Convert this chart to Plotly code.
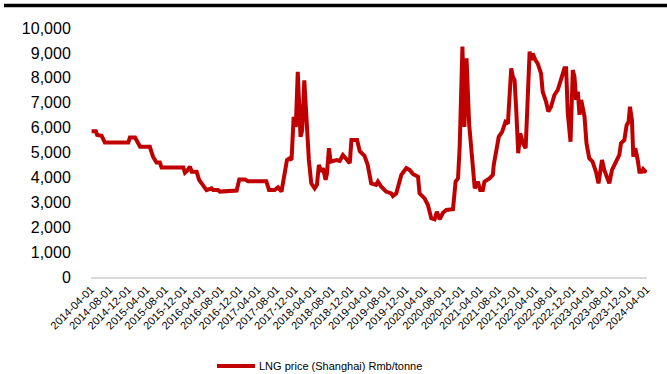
import plotly.graph_objects as go

dates = [
    "2014-04-05", "2014-05-03", "2014-05-12", "2014-06-10", "2014-07-01", "2014-12-02", "2014-12-13",
    "2015-01-16", "2015-02-18", "2015-04-23", "2015-05-14", "2015-06-06", "2015-06-28", "2015-07-09",
    "2015-11-29", "2015-12-10", "2015-12-25", "2016-01-12", "2016-01-23", "2016-02-25", "2016-03-12",
    "2016-04-08", "2016-04-30", "2016-06-02", "2016-06-13", "2016-07-15", "2016-07-26", "2016-11-14",
    "2016-12-01", "2017-01-08", "2017-01-29", "2017-05-28", "2017-06-15", "2017-07-22", "2017-08-13",
    "2017-09-05", "2017-09-26", "2017-10-11", "2017-10-29", "2017-11-10", "2017-11-24", "2017-12-08",
    "2017-12-21", "2017-12-30", "2018-01-08", "2018-01-19", "2018-02-02", "2018-02-17", "2018-03-04",
    "2018-03-20", "2018-04-11", "2018-04-26", "2018-05-09", "2018-05-25", "2018-06-05", "2018-06-22",
    "2018-07-01", "2018-07-14", "2018-07-25", "2018-09-02", "2018-09-23", "2018-10-14", "2018-11-06",
    "2018-11-28", "2018-12-09", "2019-01-15", "2019-02-02", "2019-03-05", "2019-03-26", "2019-04-18",
    "2019-05-20", "2019-06-01", "2019-06-23", "2019-07-25", "2019-08-28", "2019-09-08", "2019-09-30",
    "2019-10-17", "2019-11-02", "2019-12-05", "2019-12-26", "2020-01-17", "2020-02-20", "2020-03-01",
    "2020-04-03", "2020-04-25", "2020-05-17", "2020-06-08", "2020-06-23", "2020-07-11", "2020-08-02",
    "2020-08-24", "2020-10-07", "2020-10-24", "2020-11-09", "2020-11-20", "2020-12-08", "2020-12-21",
    "2021-01-04", "2021-01-21", "2021-02-16", "2021-02-27", "2021-03-19", "2021-04-04", "2021-04-21",
    "2021-05-02", "2021-06-04", "2021-06-26", "2021-07-02", "2021-07-18", "2021-08-04", "2021-08-26",
    "2021-09-17", "2021-10-03", "2021-10-25", "2021-11-05", "2021-11-16", "2021-11-27", "2021-12-10",
    "2021-12-23", "2022-01-10", "2022-01-28", "2022-02-08", "2022-02-23", "2022-03-04", "2022-03-15",
    "2022-04-02", "2022-04-17", "2022-05-09", "2022-05-20", "2022-06-11", "2022-06-26", "2022-07-14",
    "2022-08-05", "2022-08-27", "2022-09-19", "2022-10-10", "2022-10-21", "2022-11-01", "2022-11-19",
    "2022-12-04", "2022-12-15", "2022-12-26", "2023-01-06", "2023-01-17", "2023-01-28", "2023-02-19",
    "2023-03-04", "2023-03-22", "2023-04-13", "2023-05-05", "2023-05-22", "2023-06-14", "2023-06-29",
    "2023-07-14", "2023-08-01", "2023-08-19", "2023-09-14", "2023-10-06", "2023-10-17", "2023-11-08",
    "2023-11-23", "2023-12-06", "2023-12-15", "2023-12-28", "2024-01-06", "2024-01-19", "2024-02-04",
    "2024-02-15", "2024-03-03", "2024-03-11", "2024-04-01",
]

prices = [
    5850, 5850, 5700, 5670, 5400, 5400, 5600,
    5600, 5230, 5230, 4830, 4600, 4600, 4400,
    4400, 4190, 4270, 4430, 4230, 4230, 3900,
    3700, 3490, 3560, 3490, 3490, 3430, 3470,
    3920, 3920, 3850, 3850, 3490, 3490, 3600,
    3430, 4300, 4700, 4770, 4700, 6430, 6030,
    8240, 6300, 5630, 5900, 7900, 6300, 4700,
    3760, 3560, 3700, 4500, 4230, 4370, 3900,
    4150, 5170, 4630, 4700, 4660, 4900, 4700,
    4570, 5500, 5500, 5050, 4870, 4500, 3760,
    3700, 3830, 3630, 3430, 3360, 3250, 3360,
    3830, 4100, 4370, 4300, 4140, 4030, 3360,
    3160, 2890, 2360, 2320, 2620, 2320, 2580,
    2690, 2720, 3830, 3960, 5230, 9250, 6030,
    8780, 6160, 4300, 3560, 3830, 3490, 3490,
    3830, 3960, 4100, 4500, 5170, 5630, 5830,
    6230, 6160, 8380, 8040, 7910, 6710, 4970,
    5770, 5370, 5170, 6570, 9050, 8710, 8980,
    8710, 8580, 8180, 7440, 7040, 6640, 6840,
    7310, 7510, 8040, 8380, 8380, 6570, 5430,
    8310, 8040, 7110, 7440, 6510, 7110, 6440,
    5370, 4770, 4630, 4230, 3760, 4700, 4300,
    4030, 3760, 4300, 4630, 4900, 5370, 5500,
    6100, 6230, 6840, 6300, 4830, 5170, 4700,
    4230, 4230, 4330, 4190,
]

tick_dates = [
    "2014-04-01", "2014-08-01", "2014-12-01", "2015-04-01", "2015-08-01", "2015-12-01",
    "2016-04-01", "2016-08-01", "2016-12-01", "2017-04-01", "2017-08-01", "2017-12-01",
    "2018-04-01", "2018-08-01", "2018-12-01", "2019-04-01", "2019-08-01", "2019-12-01",
    "2020-04-01", "2020-08-01", "2020-12-01", "2021-04-01", "2021-08-01", "2021-12-01",
    "2022-04-01", "2022-08-01", "2022-12-01", "2023-04-01", "2023-08-01", "2023-12-01",
    "2024-04-01",
]
y_ticks = [0, 1000, 2000, 3000, 4000, 5000, 6000, 7000, 8000, 9000, 10000]
y_tick_labels = ["0", "1,000", "2,000", "3,000", "4,000", "5,000", "6,000", "7,000", "8,000", "9,000", "10,000"]
series_name = "LNG price (Shanghai) Rmb/tonne"

RED = "#C00000"
FONT = "Liberation Sans, Arial, sans-serif"

W, H = 667, 374
ML, MR, MT, MB = 91, 20, 28, 97
plot_w = W - ML - MR
plot_h = H - MT - MB

fig = go.Figure()
fig.add_trace(go.Scatter(
    x=dates, y=prices, mode="lines", name=series_name,
    line=dict(color=RED, width=4), showlegend=False,
))

fig.update_layout(
    width=W, height=H,
    margin=dict(l=ML, r=MR, t=MT, b=MB, pad=0),
    paper_bgcolor="white", plot_bgcolor="white",
    font=dict(family=FONT, color="#000000"),
    xaxis=dict(
        type="date",
        range=["2014-04-01", "2024-04-05"],
        tickmode="array",
        tickvals=tick_dates,
        ticktext=tick_dates,
        tickangle=-45,
        tickfont=dict(size=11, family=FONT, color="#000"),
        showgrid=False, zeroline=False,
        showline=True, linecolor="#D9D9D9", linewidth=1.5,
        ticks="",
    ),
    yaxis=dict(
        range=[0, 10000],
        tickmode="array",
        tickvals=y_ticks,
        ticktext=y_tick_labels,
        tickfont=dict(size=16, family=FONT, color="#000"),
        showgrid=False, zeroline=False, showline=False,
        ticks="outside", ticklen=16, tickcolor="rgba(0,0,0,0)",
    ),
)

# top black rule (remnant of the figure header)
ry = (H - MB - 5.5) / plot_h
fig.add_shape(type="line", xref="paper", yref="paper",
              x0=(4 - ML) / plot_w, x1=(W - ML) / plot_w, y0=ry, y1=ry,
              line=dict(color="black", width=3.5))

# custom legend
ly = (H - MB - 366) / plot_h
fig.add_shape(type="line", xref="paper", yref="paper",
              x0=(217 - ML) / plot_w, x1=(255 - ML) / plot_w, y0=ly, y1=ly,
              line=dict(color=RED, width=4))
fig.add_annotation(xref="paper", yref="paper", x=(257 - ML) / plot_w, y=ly,
                   text=series_name, showarrow=False, xanchor="left", yanchor="middle",
                   font=dict(size=11, family=FONT, color="#000"))

fig.write_html("out.html", config={"displayModeBar": False},
               post_script="document.body.style.margin='0';document.body.style.overflow='hidden';")
